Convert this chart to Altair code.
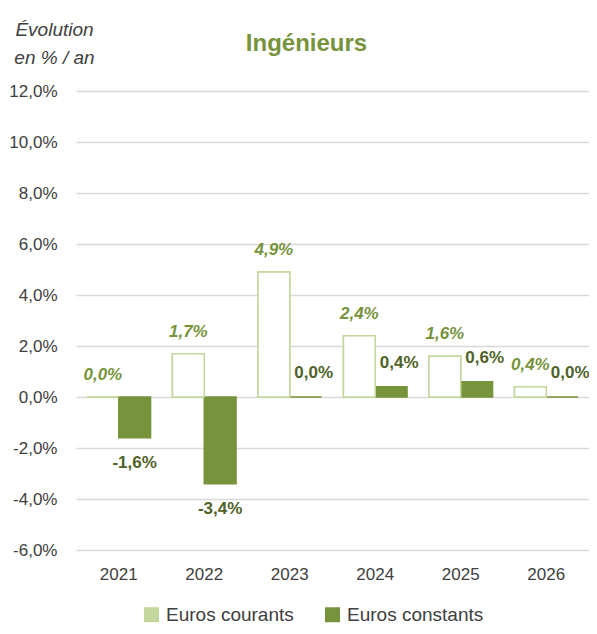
import altair as alt
import pandas as pd

years = ["2021", "2022", "2023", "2024", "2025", "2026"]
courants = [0.0, 1.7, 4.9, 2.4, 1.6, 0.4]
constants = [-1.6, -3.4, 0.0, 0.4, 0.6, 0.0]
series = ["Euros courants", "Euros constants"]
y_ticks = [-6, -4, -2, 0, 2, 4, 6, 8, 10, 12]

rows = []
for i, yr in enumerate(years):
    rows.append({"year": yr, "series": series[0], "value": courants[i]})
    rows.append({"year": yr, "series": series[1], "value": constants[i]})
df = pd.DataFrame(rows)

FONT = "Liberation Sans"
LIGHT = "#C3D69B"
GREEN = "#77933C"
DARK = "#4F6228"
GREY = "#404040"

fmt = "(datum.value < 0 ? '-' : '') + replace(format(abs(datum.value), '.1f'), '.', ',') + '%'"

base = alt.Chart(df).transform_calculate(label=fmt)

x = alt.X(
    "year:N",
    sort=years,
    scale=alt.Scale(paddingInner=0.256, paddingOuter=0.128),
    axis=alt.Axis(
        title=None, labelAngle=0, domain=False, ticks=False, tickSize=0,
        labelPadding=16, labelFont=FONT, labelFontSize=17, labelColor=GREY, grid=False,
    ),
)
xoff = alt.XOffset("series:N", sort=series,
                   scale=alt.Scale(domain=series, paddingInner=0, paddingOuter=0))
y = alt.Y(
    "value:Q",
    scale=alt.Scale(domain=[-6, 12], nice=False),
    axis=alt.Axis(
        values=y_ticks, labelExpr=fmt, grid=True, gridColor="#D9D9D9", gridWidth=1.5,
        domain=False, ticks=False, tickSize=0, labelPadding=19, labelFont=FONT,
        labelFontSize=17, labelColor=GREY,
        title=["Évolution", "en % / an"], titleAngle=0, titleX=-22, titleY=-56,
        titleAlign="center", titleBaseline="alphabetic", titleFont=FONT,
        titleFontSize=19, titleFontStyle="italic", titleFontWeight="normal",
        titleColor=GREY, titleLineHeight=28,
    ),
)

bars = base.mark_bar(strokeWidth=1.5).encode(
    x=x, xOffset=xoff, y=y,
    fill=alt.Fill(
        "series:N", sort=series,
        scale=alt.Scale(domain=series, range=[LIGHT, GREEN]),
        legend=alt.Legend(
            title=None, orient="none", legendX=66, legendY=514, direction="horizontal",
            symbolType="square", symbolSize=225, symbolStrokeWidth=0,
            labelFont=FONT, labelFontSize=19, labelColor=GREY, columnPadding=29,
            labelOffset=5, padding=0,
        ),
    ),
    stroke=alt.Stroke("series:N", scale=alt.Scale(domain=series, range=[LIGHT, GREEN]), legend=None),
)

cover = base.transform_filter(alt.datum.series == series[0]).mark_bar(
    fill="white", stroke=LIGHT, strokeWidth=1.5,
).encode(x=x, xOffset=xoff, y=y)

txt_cour = base.transform_filter(alt.datum.series == series[0]).mark_text(
    font=FONT, fontSize=17, fontWeight="bold", fontStyle="italic", color=GREEN,
    baseline="middle", dy=-22,
).encode(x=x, xOffset=xoff, y=y, text="label:N")

txt_pos = base.transform_filter(
    (alt.datum.series == series[1]) & (alt.datum.value >= 0)
).mark_text(
    font=FONT, fontSize=17, fontWeight="bold", color=DARK, baseline="middle", dy=-24, dx=8,
).encode(x=x, xOffset=xoff, y=y, text="label:N")

txt_neg = base.transform_filter(
    (alt.datum.series == series[1]) & (alt.datum.value < 0)
).mark_text(
    font=FONT, fontSize=17, fontWeight="bold", color=DARK, baseline="middle", dy=25,
).encode(x=x, xOffset=xoff, y=y, text="label:N")

chart = alt.layer(bars, cover, txt_cour, txt_pos, txt_neg).properties(
    width=513,
    height=459,
    padding={"left": 68, "top": 83, "right": 0, "bottom": 76},
    autosize=alt.AutoSizeParams(type="none"),
    title=alt.TitleParams(
        "Ingénieurs", font=FONT, fontSize=24,
        fontWeight="bold", color=GREEN, anchor="middle", offset=-36, dx=-26,
        frame="group",
    ),
).configure_view(stroke=None)

chart.save("out.html", embed_options={"renderer": "svg", "actions": False})
